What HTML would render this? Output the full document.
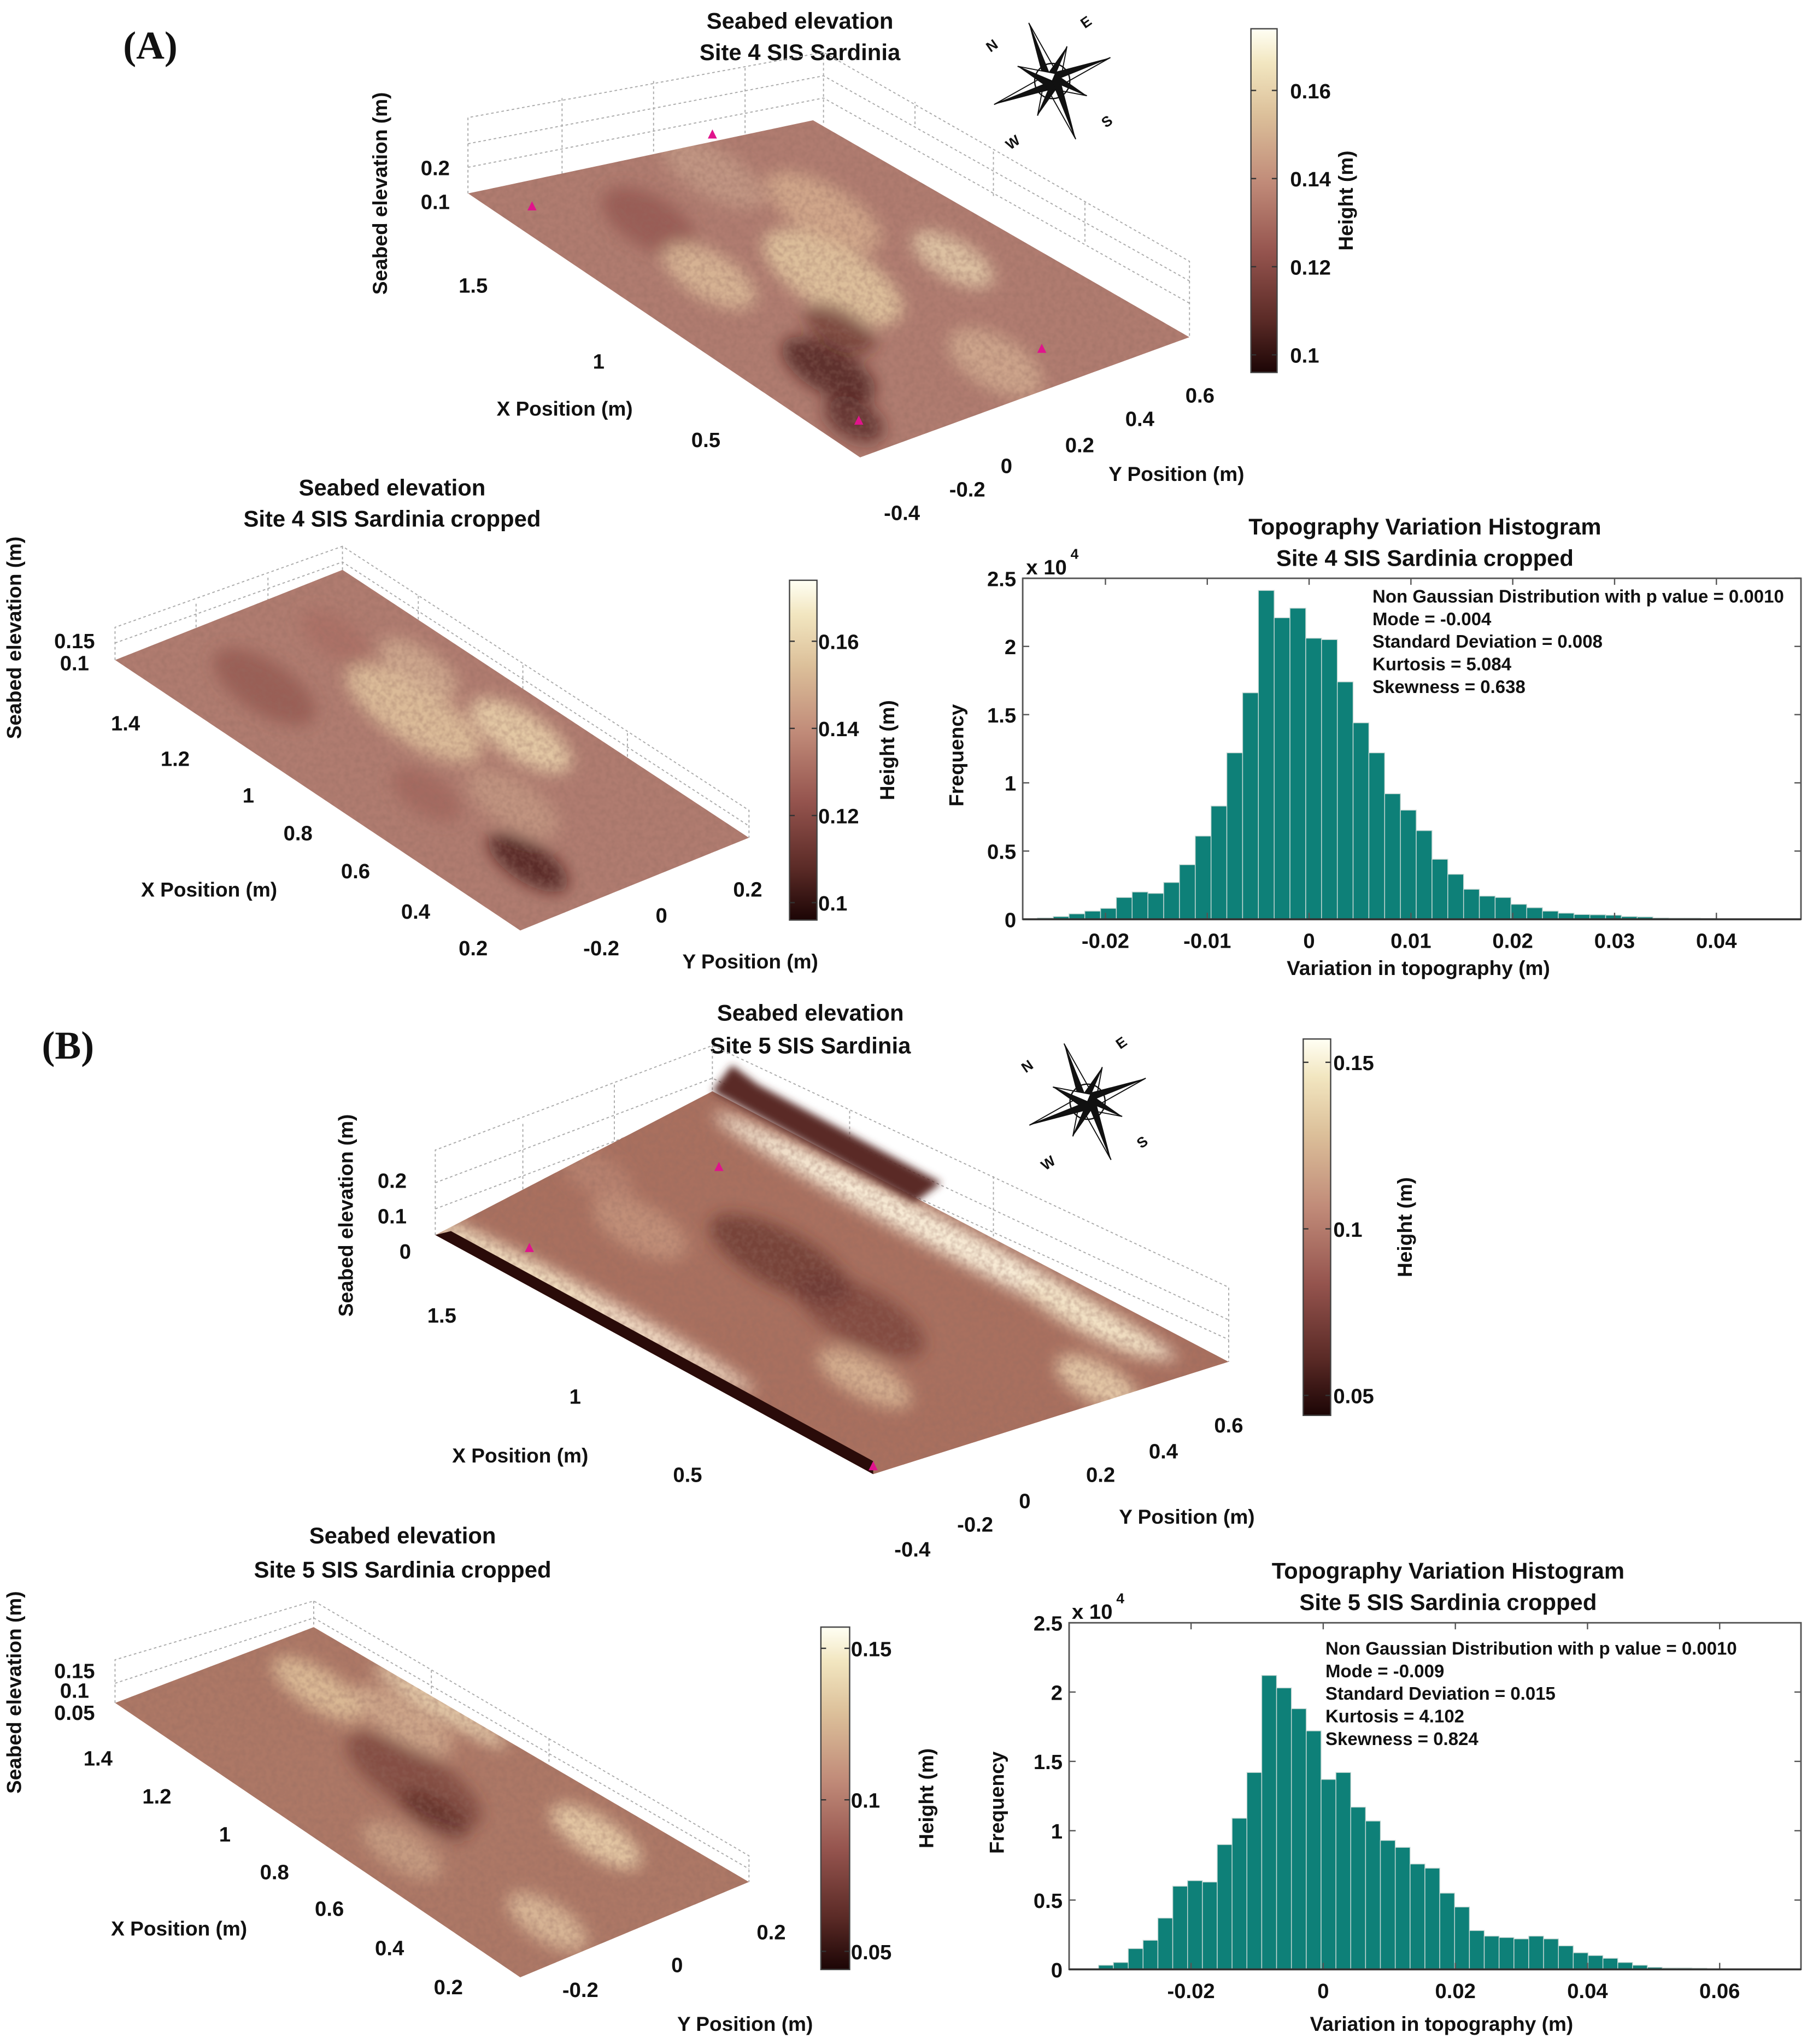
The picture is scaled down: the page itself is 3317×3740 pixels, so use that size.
<!DOCTYPE html>
<html><head><meta charset="utf-8"><style>
html,body{margin:0;padding:0;background:#fff}
svg{display:block}
text{font-family:"Liberation Sans",Arial,sans-serif;font-weight:bold;fill:#111}
.t{font-size:17.5px}
.k{font-size:16px}
.s{font-size:13.8px}
.c{font-size:11px}
.lab{font-size:15.5px}
</style></head><body>
<svg id="root" width="3317" height="3740" viewBox="0 0 1387 1564" preserveAspectRatio="none" xmlns="http://www.w3.org/2000/svg">
<defs>
<linearGradient id="cmap" x1="0" y1="1" x2="0" y2="0">
<stop offset="0" stop-color="#1c0505"/><stop offset="0.15" stop-color="#5a2a26"/><stop offset="0.35" stop-color="#95544e"/><stop offset="0.55" stop-color="#c08a78"/><stop offset="0.75" stop-color="#dcc09a"/><stop offset="0.9" stop-color="#f2e6c0"/><stop offset="1" stop-color="#fffff4"/>
</linearGradient>
<filter id="blur6"><feGaussianBlur stdDeviation="6"/></filter>
<filter id="blur3"><feGaussianBlur stdDeviation="3"/></filter>
<filter id="tex" x="0" y="0" width="100%" height="100%"><feTurbulence type="fractalNoise" baseFrequency="0.25" numOctaves="2" seed="3"/><feColorMatrix values="0 0 0 0 0.3  0 0 0 0 0.15  0 0 0 0 0.12  0 0 0 -1.4 0.9"/></filter>
</defs>
<g id="layer"></g>
</svg>
<script>
// ---------- histogram data ----------
const histA_start = -0.02668;
const histA_binWidth = 0.00155;
const histA_counts = [0.01,0.02,0.04,0.06,0.08,0.16,0.20,0.19,0.27,0.40,0.61,0.83,1.22,1.66,2.41,2.21,2.28,2.06,2.05,1.74,1.44,1.22,0.92,0.80,0.65,0.44,0.33,0.22,0.17,0.16,0.11,0.085,0.06,0.045,0.035,0.033,0.03,0.02,0.017,0.01,0.008,0.008,0.006];
const histA_xticks = [-0.02,-0.01,0,0.01,0.02,0.03,0.04];
const histA_xtickLabels = ["-0.02","-0.01","0","0.01","0.02","0.03","0.04"];
const histA_yticks = [0,0.5,1,1.5,2,2.5];
const histA_ytickLabels = ["0","0.5","1","1.5","2","2.5"];
const histA_stats = ["Non Gaussian Distribution with p value = 0.0010","Mode = -0.004","Standard Deviation = 0.008","Kurtosis = 5.084","Skewness = 0.638"];

const histB_start = -0.0340;
const histB_binWidth = 0.002245;
const histB_counts = [0.03,0.05,0.15,0.21,0.37,0.60,0.64,0.63,0.90,1.09,1.42,2.12,2.03,1.88,1.72,1.37,1.42,1.17,1.07,0.93,0.88,0.76,0.73,0.55,0.45,0.28,0.24,0.23,0.22,0.24,0.22,0.17,0.12,0.10,0.08,0.05,0.03,0.015,0.01,0.01,0.008];
const histB_xticks = [-0.02,0,0.02,0.04,0.06];
const histB_xtickLabels = ["-0.02","0","0.02","0.04","0.06"];
const histB_yticks = [0,0.5,1,1.5,2,2.5];
const histB_ytickLabels = ["0","0.5","1","1.5","2","2.5"];
const histB_stats = ["Non Gaussian Distribution with p value = 0.0010","Mode = -0.009","Standard Deviation = 0.015","Kurtosis = 4.102","Skewness = 0.824"];

// colorbar tick data
const cbA1_ticks=[0.1,0.12,0.14,0.16], cbA1_range=[0.096,0.174];
const cbA2_ticks=[0.1,0.12,0.14,0.16], cbA2_range=[0.096,0.174];
const cbB1_ticks=[0.05,0.1,0.15], cbB1_range=[0.044,0.157];
const cbB2_ticks=[0.05,0.1,0.15], cbB2_range=[0.044,0.157];

const NS="http://www.w3.org/2000/svg";
const L=document.getElementById('layer');
function el(tag,attrs,parent){const e=document.createElementNS(NS,tag);for(const k in attrs)e.setAttribute(k,attrs[k]);(parent||L).appendChild(e);return e;}
function txt(x,y,s,cls,anchor,parent,rot){const e=el('text',{x:x,y:y,'class':cls,'text-anchor':anchor||'middle'},parent);if(rot)e.setAttribute('transform','rotate('+rot+' '+x+' '+y+')');e.textContent=s;return e;}

// ---------- histogram ----------
function hist(box,x0,perUnitX,perUnitY,start,bw,counts,xt,xtl,yt,ytl,stats,name,titleLines,titleY,freqX,xlabY,statX,statY,expX){
  const g=el('g',{});
  
  
  const X=v=>x0+v*perUnitX, Y=v=>box.b-v*perUnitY;
  const axes=el('rect',{x:box.l,y:box.t,width:box.r-box.l,height:box.b-box.t,fill:'#fff',stroke:'#555','stroke-width':1.2},g);
  
  
  counts.forEach((c,i)=>{
    const xa=X(start+i*bw), xb=X(start+(i+1)*bw);
    const r=el('rect',{x:xa,y:Y(c),width:xb-xa,height:Y(0)-Y(c),fill:'#0e8078',stroke:'#c8d8d4','stroke-width':0.6},g);
    
    
  });
  xt.forEach((v,i)=>{
    el('line',{x1:X(v),x2:X(v),y1:box.b,y2:box.b-5,stroke:'#555'},g);
    el('line',{x1:X(v),x2:X(v),y1:box.t,y2:box.t+5,stroke:'#555'},g);
    const t=txt(X(v),box.b+22,xtl[i],'k','middle',g);
    
    
  });
  yt.forEach((v,i)=>{
    el('line',{x1:box.l,x2:box.l+5,y1:Y(v),y2:Y(v),stroke:'#555'},g);
    el('line',{x1:box.r,x2:box.r-5,y1:Y(v),y2:Y(v),stroke:'#555'},g);
    const t=txt(box.l-5,Y(v)+6,ytl[i],'k','end',g);
    
    
  });
  el('line',{x1:box.l,x2:box.r,y1:box.b,y2:box.b,stroke:'#333','stroke-width':1.5},g);
  const ex=txt(expX,box.t-3,'x 10','k','start',g);
  
  
  txt(expX+34,box.t-15,'4','c','start',g);
  stats.forEach((s,i)=>{const t=txt(statX,statY+i*17.3,s,'s','start',g);
    
    });
  titleLines.forEach((s,i)=>{const t=txt((box.l+box.r)/2+10,titleY+i*24,s,'t','middle',g);
    
    });
  const fy=txt(freqX,(box.t+box.b)/2+5,'Frequency','lab','middle',g,-90);
  
  
  const fx=txt((box.l+box.r)/2+5,xlabY,'Variation in topography (m)','lab','middle',g);
  
  
}

// ---------- colorbar ----------
function colorbar(x,y0,y1,w,range,ticks,name,labX,hX){
  const g=el('g',{});
  
  
  el('rect',{x:x,y:y0,width:w,height:y1-y0,fill:'url(#cmap)',stroke:'#444','stroke-width':1},g);
  const Y=v=>y1-(v-range[0])/(range[1]-range[0])*(y1-y0);
  ticks.forEach(v=>{
    el('line',{x1:x,x2:x+4,y1:Y(v),y2:Y(v),stroke:'#333'},g);
    el('line',{x1:x+w,x2:x+w-4,y1:Y(v),y2:Y(v),stroke:'#333'},g);
    const t=txt(labX,Y(v)+6,String(v),'k','start',g);
    
    
  });
  const h=txt(hX,(y0+y1)/2,'Height (m)','lab','middle',g,-90);
  
  
}

// ---------- surface ----------
function bil(c,u,v){
  const a=c[0],b=c[1],d=c[2],e=c[3];
  const x=(1-u)*(1-v)*a[0]+(1-u)*v*b[0]+u*v*d[0]+u*(1-v)*e[0];
  const y=(1-u)*(1-v)*a[1]+(1-u)*v*b[1]+u*v*d[1]+u*(1-v)*e[1];
  return [x,y];
}
let clipId=0;
function surface(c,base,blobs,name){
  const g=el('g',{});
  
  
  const id='clip'+(clipId++);
  const cp=el('clipPath',{id:id},g);
  const pts=c.map(p=>p.join(',')).join(' ');
  el('polygon',{points:pts},cp);
  const inner=el('g',{'clip-path':'url(#'+id+')'},g);
  el('polygon',{points:pts,fill:base},inner);
  const bg=el('g',{filter:'url(#blur6)'},inner);
  blobs.forEach(b=>{
    const p=bil(c,b[0],b[1]);
    el('ellipse',{cx:p[0],cy:p[1],rx:b[2],ry:b[3],fill:b[4],opacity:b[5]||0.85,transform:'rotate('+(b[6]||25)+' '+p[0]+' '+p[1]+')'},bg);
  });
  let minx=Math.min(...c.map(p=>p[0])),miny=Math.min(...c.map(p=>p[1])),maxx=Math.max(...c.map(p=>p[0])),maxy=Math.max(...c.map(p=>p[1]));
  el('rect',{x:minx,y:miny,width:maxx-minx,height:maxy-miny,filter:'url(#tex)',opacity:0.5},inner);
  return g;
}
function grid(lines){
  const g=el('g',{stroke:'#aaa','stroke-width':0.8,'stroke-dasharray':'2,2',fill:'none'});
  
  
  lines.forEach(l=>el('polyline',{points:l.map(p=>p.join(',')).join(' ')},g));
}
function labels(list,cls){list.forEach(a=>{const t=txt(a[0],a[1],a[2],cls||'k','middle',null,a[3]);
  
  });}
function marker(x,y){const m=el('polygon',{points:(x-3.5)+','+(y+3)+' '+(x+3.5)+','+(y+3)+' '+x+','+(y-4),fill:'#e0148c'});
  
  }
function compass(cx,cy,r,name){
  const g=el('g',{});
  
  
  const rot=-22;
  for(let i=0;i<8;i++){
    const ang=(rot+i*45)*Math.PI/180, len=(i%2==0)?r:r*0.6, w=r*0.13;
    const tip=[cx+len*Math.sin(ang),cy-len*Math.cos(ang)];
    const l=[cx+w*Math.sin(ang-Math.PI/2),cy-w*Math.cos(ang-Math.PI/2)];
    const rr=[cx+w*Math.sin(ang+Math.PI/2),cy-w*Math.cos(ang+Math.PI/2)];
    el('polygon',{points:cx+','+cy+' '+tip.join(',')+' '+l.join(','),fill:'#111'},g);
    el('polygon',{points:cx+','+cy+' '+tip.join(',')+' '+rr.join(','),fill:'#fff',stroke:'#111','stroke-width':0.8},g);
  }
  el('circle',{cx:cx,cy:cy,r:r*0.28,fill:'none',stroke:'#111','stroke-width':1},g);
  const lab=[['N',-44,-28],['E',28,-46],['S',44,30],['W',-28,46]];
  lab.forEach(a=>{txt(cx+a[1],cy+a[2]+4,a[0],'c','middle',g,-35);});
}

// ===== Panel A =====
const pl=txt(115,45,'(A)','t','middle');pl.setAttribute('style','font-family:"Liberation Serif",serif;font-size:30px');

labels([[612,22,'Seabed elevation',0,'chart-title'],[612,46,'Site 4 SIS Sardinia',0,'chart-title']],'t');
grid([[[358,148],[358,90],[630,40],[910,200],[910,258]],[[630,40],[630,95]],[[358,128],[630,75],[910,232]],[[358,110],[630,58],[910,215]],[[430,133],[430,75]],[[500,120],[500,62]],[[570,106],[570,50]],[[700,95],[700,78]],[[760,150],[760,115]],[[830,185],[830,155]]]);
surface([[358,148],[622,92],[910,258],[658,350]],'#b07c70',[
 [0.5,0.5,60,25,'#e8cfa5',0.8,30],[0.3,0.7,50,20,'#d8b090',0.8,30],[0.75,0.2,40,18,'#3a1512',0.7,30],[0.65,0.35,30,15,'#5a2522',0.6,30],[0.2,0.3,40,20,'#8a4a42',0.6,30],[0.4,0.25,40,18,'#e0c09c',0.8,30],[0.1,0.6,45,18,'#c8a08a',0.7,30],[0.88,0.55,40,20,'#d9b597',0.7,30],[0.55,0.8,35,15,'#f1dfb8',0.7,30],[0.9,0.1,25,15,'#4a1c18',0.7,30]],'surface-site4');
[[545,103],[407,158],[657,322],[797,267]].forEach(p=>marker(p[0],p[1]));
labels([[296,148,'Seabed elevation (m)',-90,'z-axis-title']],'lab');
labels([[333,134,'0.2'],[333,160,'0.1'],[362,224,'1.5'],[458,282,'1'],[540,342,'0.5'],[690,398,'-0.4'],[740,380,'-0.2'],[770,362,'0'],[826,346,'0.2'],[872,326,'0.4'],[918,308,'0.6']]);
labels([[432,318,'X Position (m)',0,'x-axis-title'],[900,368,'Y Position (m)',0,'y-axis-title']],'lab');
compass(805,62,48,'compass-rose-a');
colorbar(957,22,285,20,cbA1_range,cbA1_ticks,'colorbar-site4',987,1035);

labels([[300,379,'Seabed elevation',0,'chart-title'],[300,403,'Site 4 SIS Sardinia cropped',0,'chart-title']],'t');
grid([[[88,505],[88,480],[262,418],[573,620],[573,641]],[[262,418],[262,436]],[[88,492],[262,430],[573,632]],[[150,480],[150,460]],[[205,460],[205,440]],[[320,474],[320,455]],[[400,527],[400,507]],[[480,579],[480,560]]]);
surface([[88,505],[262,436],[573,641],[398,712]],'#b07c70',[
 [0.2,0.3,45,20,'#8a4c45',0.6,33],[0.4,0.6,60,22,'#e6cba2',0.8,33],[0.55,0.8,45,18,'#f0dbb2',0.8,33],[0.85,0.3,35,15,'#3e1614',0.75,33],[0.7,0.5,40,18,'#c79e86',0.7,33],[0.3,0.8,35,15,'#d9b898',0.7,33],[0.15,0.7,30,15,'#a86a60',0.6,33],[0.6,0.3,30,15,'#9c5e55',0.6,33]],'surface-site4-cropped');
labels([[16,488,'Seabed elevation (m)',-90,'z-axis-title']],'lab');
labels([[57,496,'0.15'],[57,513,'0.1'],[96,559,'1.4'],[134,586,'1.2'],[190,614,'1'],[228,643,'0.8'],[272,672,'0.6'],[318,703,'0.4'],[362,731,'0.2'],[460,731,'-0.2'],[506,706,'0'],[572,686,'0.2']]);
labels([[160,686,'X Position (m)',0,'x-axis-title'],[574,741,'Y Position (m)',0,'y-axis-title']],'lab');
colorbar(604,444,704,21,cbA2_range,cbA2_ticks,'colorbar-site4-cropped',626,684);

hist({l:782.4,r:1377.8,t:442.5,b:703.4},1001.5,7790,104.4,histA_start,histA_binWidth,histA_counts,histA_xticks,histA_xtickLabels,histA_yticks,histA_ytickLabels,histA_stats,'histogram-site4',['Topography Variation Histogram','Site 4 SIS Sardinia cropped'],409,737,746,1050,461,785);

// ===== Panel B =====
const pb=txt(52,810,'(B)','t','middle');pb.setAttribute('style','font-family:"Liberation Serif",serif;font-size:30px');

labels([[620,781,'Seabed elevation',0,'chart-title'],[620,806,'Site 5 SIS Sardinia',0,'chart-title']],'t');
grid([[[333,945],[333,880],[545,800],[940,985],[940,1042]],[[545,800],[545,835]],[[333,905],[545,825],[940,1010]],[[333,925],[545,845],[940,1025]],[[400,860],[400,920]],[[470,830],[470,895]],[[650,850],[650,900]],[[760,900],[760,950]]]);
surface([[333,945],[545,835],[940,1042],[668,1128]],'#a9705f',[
 [0.4,0.55,60,22,'#5c2b27',0.65,28],[0.6,0.5,55,22,'#6b332e',0.6,28],[0.5,0.92,200,12,'#fff7e0',0.95,28],[0.3,0.05,150,10,'#fff0d8',0.85,28],[0.15,0.05,80,8,'#f5e4c4',0.9,28],[0.8,0.9,60,12,'#f5e6c8',0.9,28],[0.2,0.4,40,18,'#d0a488',0.6,28],[0.75,0.3,40,15,'#e5c7a2',0.7,28],[0.05,0.5,30,15,'#c08c78',0.6,28],[0.95,0.7,35,15,'#f1dcb8',0.8,28]],'surface-site5');
const dk=el('polygon',{points:'333,945 345,942 668,1118 668,1128',fill:'#2a0b09'});
const rd=el('polygon',{points:'545,835 560,815 580,830 720,905 700,920',fill:'#5a2a25',filter:'url(#blur3)'});
[[550,893],[405,955],[668,1122]].forEach(p=>marker(p[0],p[1]));
labels([[270,930,'Seabed elevation (m)',-90,'z-axis-title']],'lab');
labels([[300,909,'0.2'],[300,936,'0.1'],[310,963,'0'],[338,1012,'1.5'],[440,1074,'1'],[526,1134,'0.5'],[698,1191,'-0.4'],[746,1172,'-0.2'],[784,1154,'0'],[842,1134,'0.2'],[890,1116,'0.4'],[940,1096,'0.6']]);
labels([[398,1119,'X Position (m)',0,'x-axis-title'],[908,1166,'Y Position (m)',0,'y-axis-title']],'lab');
compass(832,843,48,'compass-rose-b');
colorbar(997,795,1083,21,cbB1_range,cbB1_ticks,'colorbar-site5',1020,1080);

labels([[308,1181,'Seabed elevation',0,'chart-title'],[308,1207,'Site 5 SIS Sardinia cropped',0,'chart-title']],'t');
grid([[[88,1303],[88,1270],[240,1225],[573,1420],[573,1440]],[[240,1225],[240,1245]],[[88,1288],[240,1238],[573,1430]],[[330,1278],[330,1298]],[[420,1330],[420,1350]]]);
surface([[88,1303],[240,1245],[573,1440],[398,1513]],'#ad7866',[
 [0.45,0.55,60,22,'#6b342f',0.6,32],[0.15,0.7,40,15,'#e6c9a0',0.8,32],[0.3,0.8,45,15,'#dcb998',0.7,32],[0.75,0.8,40,15,'#f2dcb4',0.8,32],[0.9,0.3,35,15,'#e5c9a5',0.75,32],[0.6,0.2,35,15,'#d0a98c',0.7,32],[0.55,0.45,30,12,'#4e211e',0.55,32],[0.3,0.98,60,8,'#f5e3bd',0.85,32]],'surface-site5-cropped');
labels([[16,1295,'Seabed elevation (m)',-90,'z-axis-title']],'lab');
labels([[57,1284,'0.15'],[57,1299,'0.1'],[57,1316,'0.05'],[75,1351,'1.4'],[120,1380,'1.2'],[172,1409,'1'],[210,1438,'0.8'],[252,1466,'0.6'],[298,1496,'0.4'],[343,1526,'0.2'],[444,1528,'-0.2'],[518,1509,'0'],[590,1484,'0.2']]);
labels([[137,1481,'X Position (m)',0,'x-axis-title'],[570,1554,'Y Position (m)',0,'y-axis-title']],'lab');
colorbar(628,1245,1507,22,cbB2_range,cbB2_ticks,'colorbar-site5-cropped',651,714);

hist({l:817.9,r:1377.8,t:1241.7,b:1506.9},1012.3,5055,106.1,histB_start,histB_binWidth,histB_counts,histB_xticks,histB_xtickLabels,histB_yticks,histB_ytickLabels,histB_stats,'histogram-site5',['Topography Variation Histogram','Site 5 SIS Sardinia cropped'],1208,768,1554,1014,1266,820);
</script>
</body></html>
